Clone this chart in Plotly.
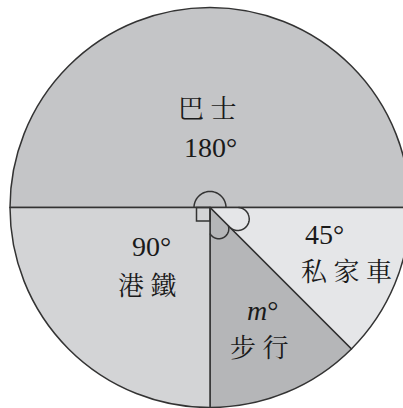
import numpy as np
import plotly.graph_objects as go

# data (degrees)
labels = ["巴士", "私家車", "步行", "港鐵"]
angles = [180, 45, 45, 90]
slice_colors = ["#c4c5c7", "#e5e6e8", "#b5b6b8", "#d3d4d6"]

# text shown in each sector, and where it sits (pixels)
value_text = ["180°", "45°", "<i>m</i>°", "90°"]
name_text = ["巴 士", "私 家 車", "步 行", "港 鐵"]
value_pos = [(210, 147), (324, 234), (262, 310), (151, 246)]
name_pos = [(207, 109), (346, 272), (259, 348), (147, 286)]

# the circle runs a little past the right edge of the 403px window, so the
# figure is drawn wider and the page clips it
W, H = 412, 408
cx, cy, R = 210, 207.5, 200
LINE = "#333333"
SERIF = "Liberation Serif, Noto Serif CJK TC, Noto Sans CJK TC, serif"

fig = go.Figure()

fig.add_trace(go.Pie(
    labels=labels,
    values=angles,
    sort=False,
    direction="clockwise",
    rotation=270,
    textinfo="none",
    hoverinfo="label+value",
    marker=dict(colors=slice_colors, line=dict(color=LINE, width=1.5)),
    domain=dict(x=[(cx - R) / W, min(1, (cx + R) / W)],
                y=[max(0, (H - cy - R) / H), min(1, (H - cy + R) / H)]),
    showlegend=False,
))

# angle markers at the centre
shapes = []

# semicircle for the 180 degree angle
t = np.linspace(np.pi, 0, 40)
pts = [(cx + 16 * np.cos(a), cy - 16 * np.sin(a)) for a in t]
shapes.append(dict(type="path", xref="x", yref="y", layer="above",
                   path="M " + " L ".join(f"{x:.2f},{y:.2f}" for x, y in pts),
                   line=dict(color=LINE, width=1.5)))

# right-angle square for the 90 degree sector
shapes.append(dict(type="rect", xref="x", yref="y", layer="above",
                   x0=cx - 13.5, x1=cx, y0=cy, y1=cy + 13.5,
                   line=dict(color=LINE, width=1.5)))

# small lobes marking the two 45 degree angles
for a1, a2, d, r in [(0, -45, 30, 11.5), (-45, -90, 23, 10)]:
    mid = np.radians((a1 + a2) / 2)
    ox, oy = cx + d * np.cos(mid), cy - d * np.sin(mid)
    seg = []
    for a in np.linspace(0, 2 * np.pi, 721):
        px, py = ox + r * np.cos(mid + np.pi + a), oy - r * np.sin(mid + np.pi + a)
        ang = np.degrees(np.arctan2(cy - py, px - cx))
        seg.append((px, py, min(a1, a2) <= ang <= max(a1, a2)))
    # longest run of circle points that lies inside the sector
    best, cur = [], []
    for px, py, ok in seg + seg:
        if ok:
            cur.append((px, py))
            if len(cur) > len(best):
                best = list(cur)
        else:
            cur = []
    best = best[:721]
    shapes.append(dict(type="path", xref="x", yref="y", layer="above",
                       path="M " + " L ".join(f"{x:.2f},{y:.2f}" for x, y in best),
                       line=dict(color=LINE, width=1.5)))

annotations = []
for txt, (x, y) in zip(value_text, value_pos):
    annotations.append(dict(x=x, y=y, xref="x", yref="y", text=txt, showarrow=False,
                            font=dict(family=SERIF, size=28, color="#1a1a1a")))
for txt, (x, y) in zip(name_text, name_pos):
    annotations.append(dict(x=x, y=y, xref="x", yref="y", text=txt, showarrow=False,
                            font=dict(family=SERIF, size=26, color="#1a1a1a")))

fig.update_layout(
    width=W, height=H,
    margin=dict(l=0, r=0, t=0, b=0),
    paper_bgcolor="white",
    plot_bgcolor="rgba(0,0,0,0)",
    xaxis=dict(range=[0, W], visible=False, fixedrange=True),
    yaxis=dict(range=[H, 0], visible=False, fixedrange=True),
    shapes=shapes,
    annotations=annotations,
)

# drop the browser's default body margin so the figure sits at the window corner
fig.write_html("out.html", config={"displayModeBar": False},
               post_script="document.body.style.margin='0';document.body.style.overflow='hidden';")
